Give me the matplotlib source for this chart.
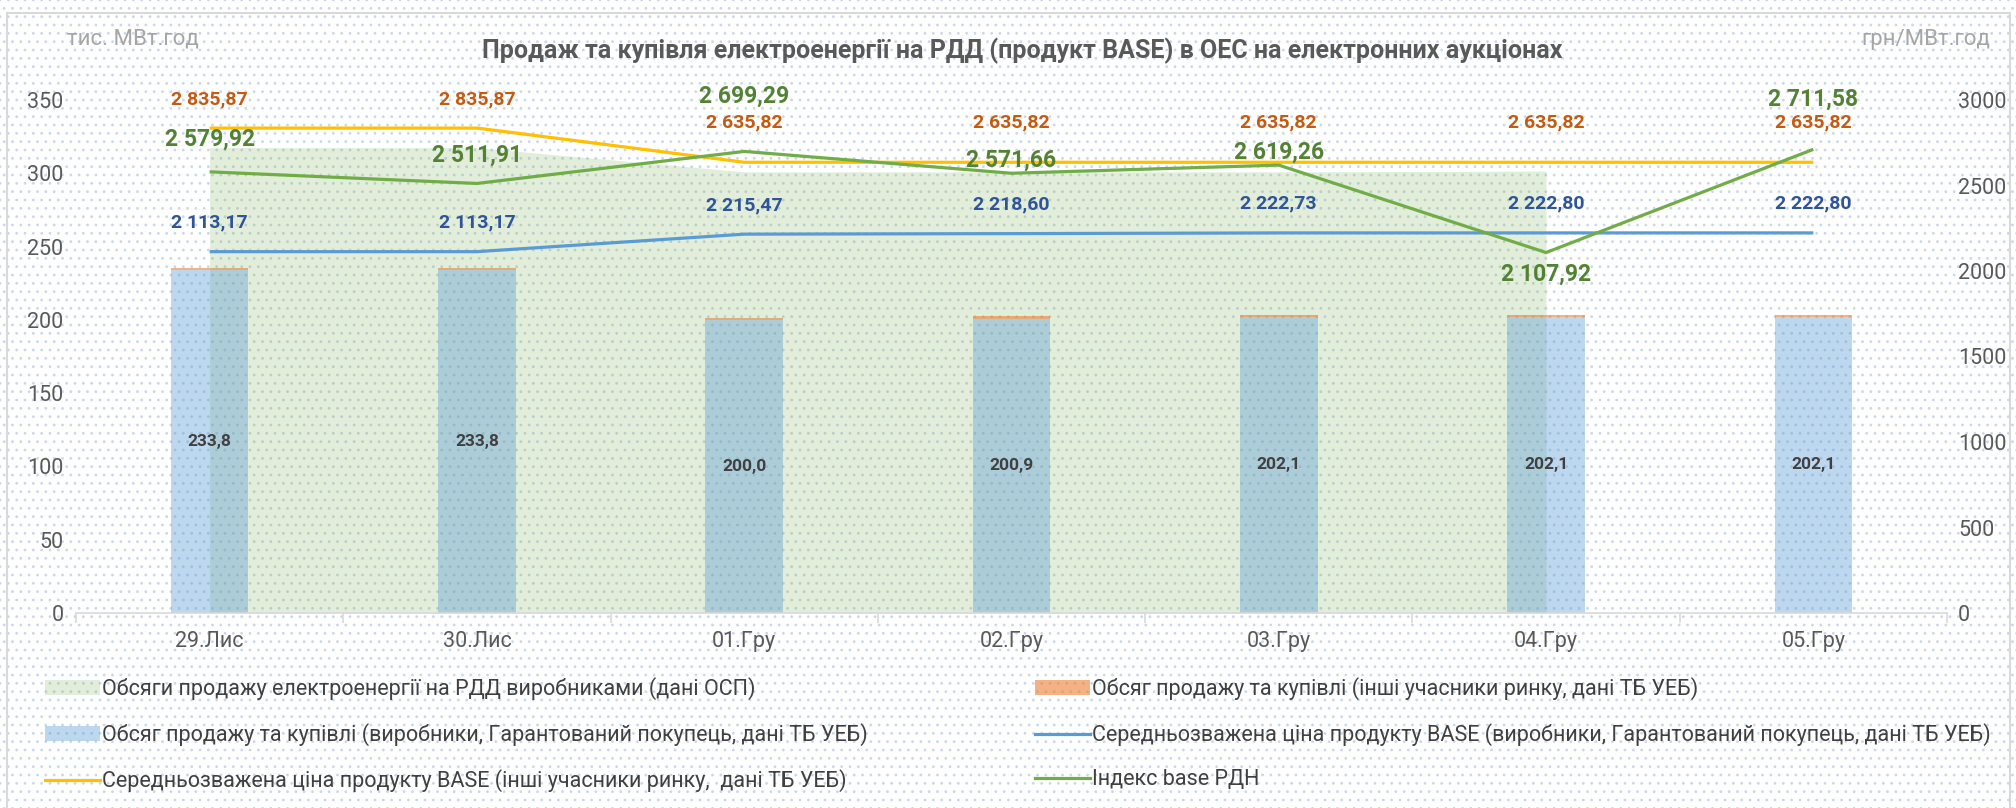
# Продаж та купівля електроенергії на РДД (BASE) - двовісний графік
import matplotlib.pyplot as plt
from matplotlib.patches import Rectangle, Patch
from matplotlib.lines import Line2D
import numpy as np

plt.rcParams['font.family'] = ['Roboto', 'DejaVu Sans']

# дані
days = ['29.Лис', '30.Лис', '01.Гру', '02.Гру', '03.Гру', '04.Гру', '05.Гру']
osp_volume = [317.5, 317.5, 301.0, 301.0, 301.0, 301.5]          # до 04.Гру
producers_volume = [233.8, 233.8, 200.0, 200.9, 202.1, 202.1, 202.1]
others_volume = [1.5, 1.5, 1.4, 1.4, 1.4, 1.4, 1.4]
price_producers = [2113.17, 2113.17, 2215.47, 2218.60, 2222.73, 2222.80, 2222.80]
price_others = [2835.87, 2835.87, 2635.82, 2635.82, 2635.82, 2635.82, 2635.82]
index_base = [2579.92, 2511.91, 2699.29, 2571.66, 2619.26, 2107.92, 2711.58]

# зсуви підписів (px, вгору +)
off_others = [29, 29, 40, 40, 40, 40, 40]
off_producers = [29] * 7
off_index = [33, 28, 55, 13, 13, -22, 50]

legend_labels = [
    'Обсяги продажу електроенергії на РДД виробниками (дані ОСП)',
    'Обсяг продажу та купівлі (виробники, Гарантований покупець, дані ТБ УЕБ)',
    'Середньозважена ціна продукту BASE (інші учасники ринку,  дані ТБ УЕБ)',
    'Обсяг продажу та купівлі (інші учасники ринку, дані ТБ УЕБ)',
    'Середньозважена ціна продукту BASE (виробники, Гарантований покупець, дані ТБ УЕБ)',
    'Індекс base РДН',
]

W, H = 2016, 808
fig = plt.figure(figsize=(W / 100, H / 100), dpi=100)

# фон у крапку + рамка
plt.rcParams['hatch.linewidth'] = 0.8
bg = Rectangle((0, 0), 1, 1, transform=fig.transFigure, facecolor='white',
               edgecolor='#c9d8ec', hatch='..', lw=0, zorder=-10)
fig.patches.append(bg)
frame = Rectangle((7 / W, -0.05), (2010 - 7) / W, 1.05 - 13 / H, transform=fig.transFigure,
                  facecolor='none', edgecolor='#d9d9d9', lw=1.5, zorder=-9)
fig.patches.append(frame)

ax = fig.add_axes([76 / W, 1 - 613 / H, (1947 - 76) / W, (613 - 100) / H])
ax.set_facecolor('none')
ax2 = ax.twinx()

x = np.arange(len(days))

ax.fill_between(x[:len(osp_volume)], osp_volume, 0, color='#70AD47', alpha=0.2, lw=0, zorder=1)
ax.bar(x, producers_volume, width=0.29, color='#5B9BD5', alpha=0.4, zorder=2)
ax.bar(x, others_volume, width=0.29, bottom=producers_volume, color='#ED7D31', alpha=0.6, zorder=2)

for i, v in enumerate(producers_volume):
    ax.text(x[i], v / 2, f'{v:.1f}'.replace('.', ','), ha='center', va='center',
            fontsize=12.5, fontweight='bold', color='#404040', zorder=5)

ax2.plot(x, price_others, color='#FFC000', lw=2.3, solid_capstyle='butt')
ax2.plot(x, price_producers, color='#5B9BD5', lw=2.3, solid_capstyle='butt')
ax2.plot(x, index_base, color='#70AD47', lw=2.3, solid_capstyle='butt')


def fmt(v):
    return f'{v:,.2f}'.replace(',', ' ').replace('.', ',')


for vals, offs, col, fs in [(price_others, off_others, '#C55A11', 14),
                            (price_producers, off_producers, '#2F5597', 14),
                            (index_base, off_index, '#548235', 16.5)]:
    for i, v in enumerate(vals):
        ax2.annotate(fmt(v), (x[i], v), xytext=(0, offs[i] * 0.72), textcoords='offset points',
                     ha='center', va='center', fontsize=fs, fontweight='bold', color=col)

ax.set_xlim(-0.5, 6.5)
ax.set_ylim(0, 350)
ax2.set_ylim(0, 3000)
ax.set_yticks(np.arange(0, 351, 50))
ax2.set_yticks(np.arange(0, 3001, 500))
ax.set_xticks(x)
ax.set_xticklabels(days)
ax.set_xticks(np.arange(-0.5, 7, 1), minor=True)
ax.tick_params(axis='x', which='major', length=0, pad=13, labelsize=15.5, labelcolor='#595959')
ax.tick_params(axis='x', which='minor', length=7, color='#d9d9d9', width=1.2)
ax.tick_params(axis='y', length=0, pad=9, labelsize=15.5, labelcolor='#595959')
ax2.tick_params(axis='y', length=0, pad=8, labelsize=15.5, labelcolor='#595959')
for a in (ax, ax2):
    for s in ('top', 'left', 'right'):
        a.spines[s].set_visible(False)
    a.spines['bottom'].set_color('#d9d9d9')
    a.spines['bottom'].set_linewidth(1.2)
ax2.spines['bottom'].set_visible(False)

fig.text(1022 / W, 1 - 51 / H,
         'Продаж та купівля електроенергії на РДД (продукт BASE) в ОЕС на електронних аукціонах',
         ha='center', va='center', fontsize=18, fontweight='bold', color='#595959')
fig.text(67 / W, 1 - 39 / H, 'тис. МВт.год', ha='left', va='center', fontsize=16, color='#a6a6a6')
fig.text(1990 / W, 1 - 39 / H, 'грн/МВт.год', ha='right', va='center', fontsize=16, color='#a6a6a6')

h1 = [Patch(facecolor='#70AD47', alpha=0.2, lw=0),
      Patch(facecolor='#5B9BD5', alpha=0.4, lw=0),
      Line2D([], [], color='#FFC000', lw=2.3)]
h2 = [Patch(facecolor='#ED7D31', alpha=0.6, lw=0),
      Line2D([], [], color='#5B9BD5', lw=2.3),
      Line2D([], [], color='#70AD47', lw=2.3)]
common = dict(frameon=False, fontsize=15.5, handlelength=2.55, handleheight=0.7,
              handletextpad=0.12, labelspacing=1.08, labelcolor='#404040',
              borderaxespad=0, borderpad=0)
leg1 = fig.legend(h1, legend_labels[:3], loc='upper left', bbox_to_anchor=(45 / W, 1 - 677 / H), **common)
leg2 = fig.legend(h2, legend_labels[3:], loc='upper left', bbox_to_anchor=(1035 / W, 1 - 677 / H), **common)

fig.savefig('out.png', dpi=100)
